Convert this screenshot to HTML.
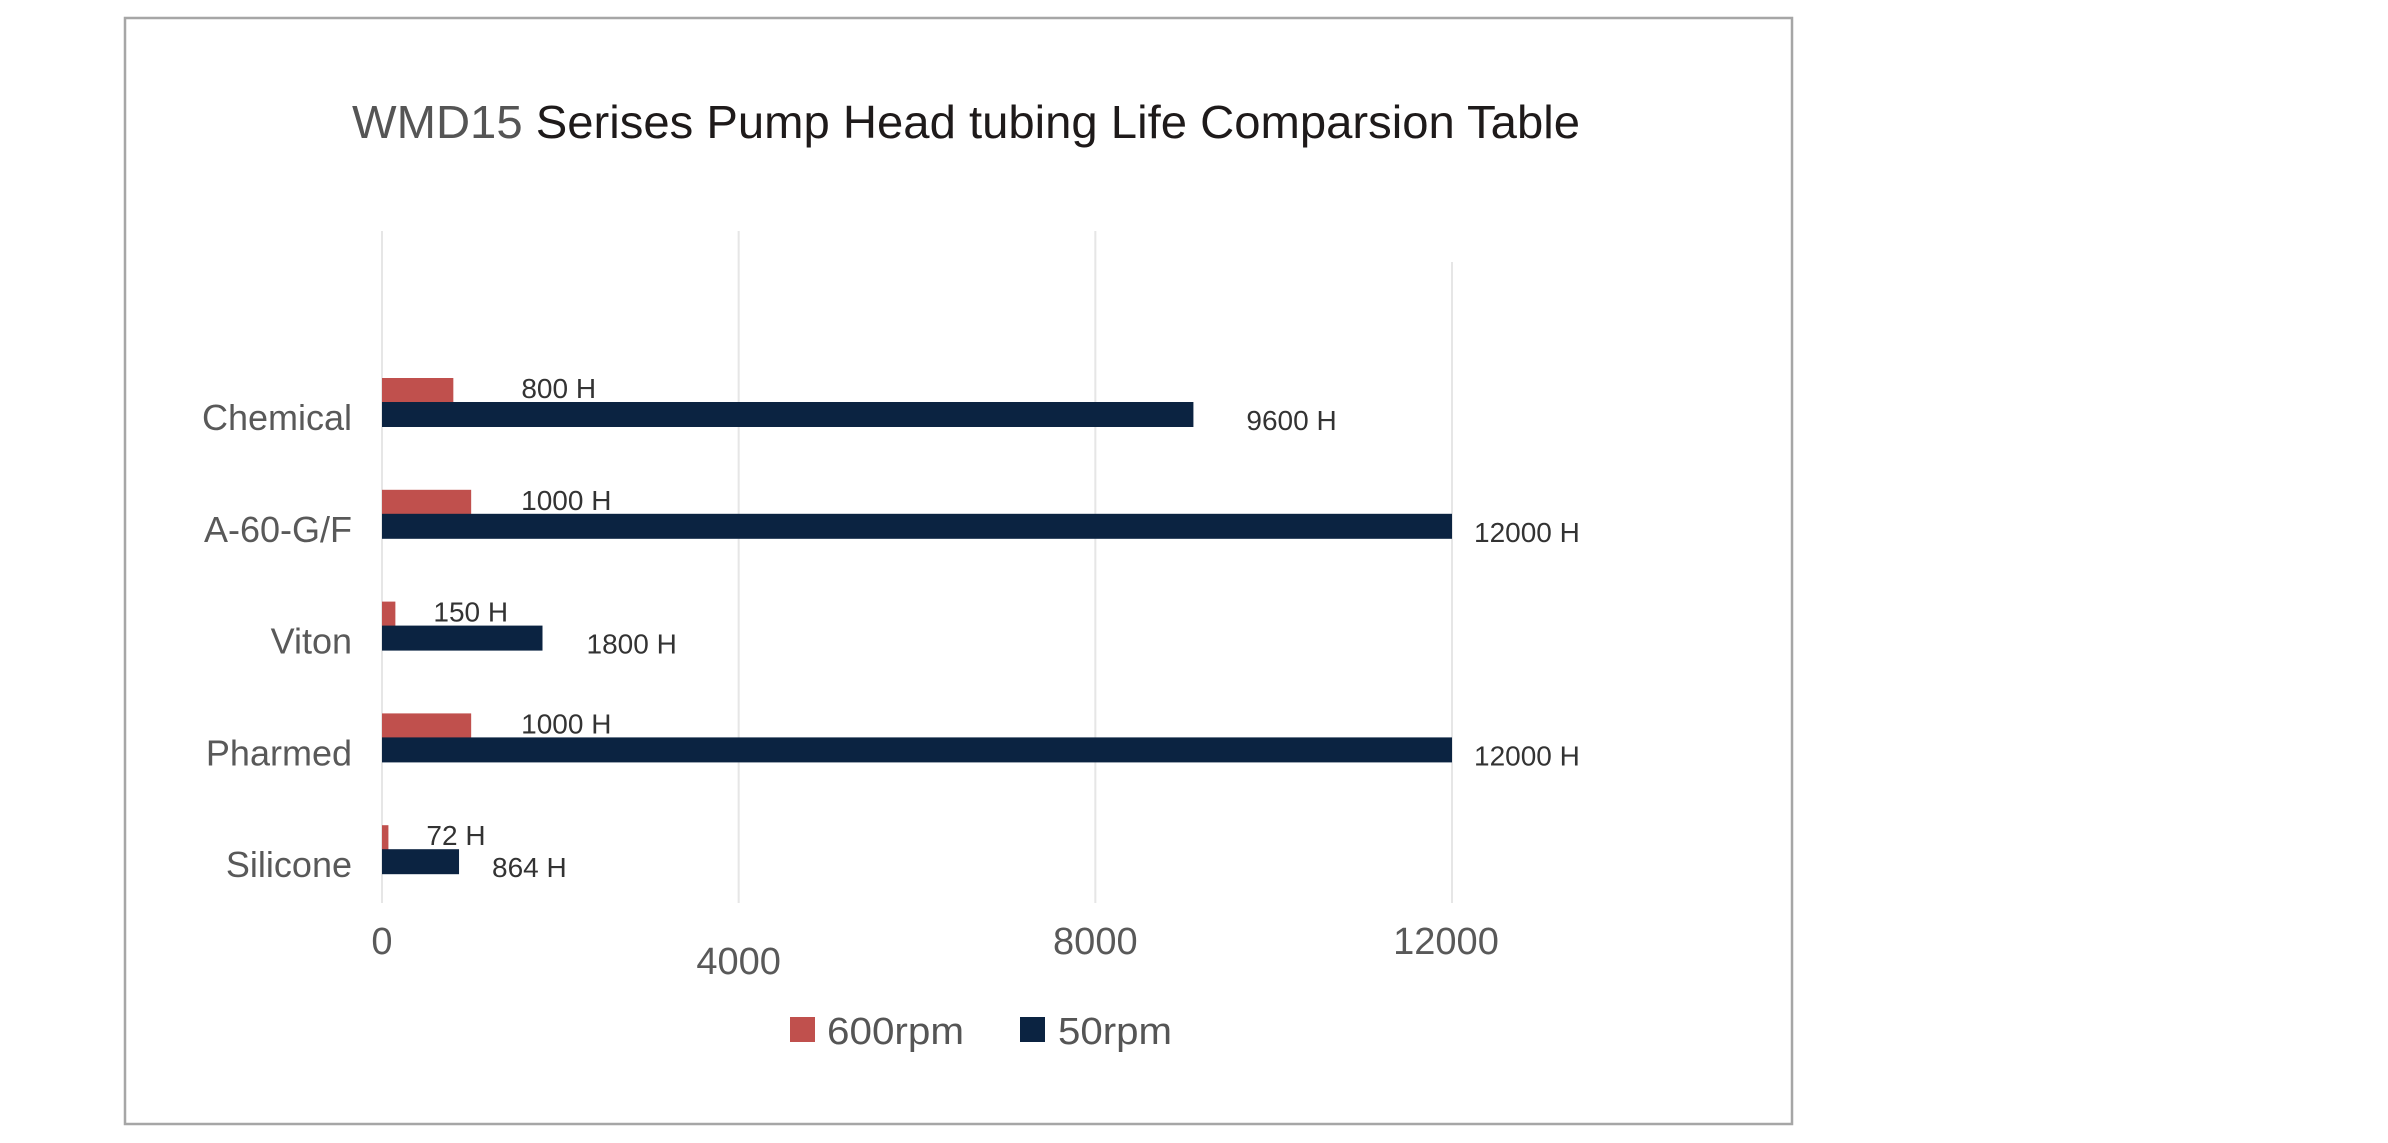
<!DOCTYPE html>
<html><head><meta charset="utf-8"><style>
html,body{margin:0;padding:0;background:#fff;}
svg{display:block;font-family:"Liberation Sans",sans-serif;}
</style></head><body>
<svg id="chart" width="2388" height="1143" viewBox="0 0 2388 1143" xmlns="http://www.w3.org/2000/svg">
<rect x="125" y="18" width="1667" height="1106" fill="#fff" stroke="#a6a6a6" stroke-width="2.5"/>
<text x="352" y="138" font-size="46" textLength="1228" lengthAdjust="spacingAndGlyphs"><tspan fill="#555">WMD15</tspan><tspan fill="#1e1a1a"> Serises Pump Head tubing Life Comparsion Table</tspan></text>
<g id="grid"></g><g id="bars"></g><g id="labels"></g>
<g>
<rect x="790" y="1017" width="25" height="25" fill="#c0504d"/>
<text x="827" y="1044" font-size="38" fill="#555" textLength="137" lengthAdjust="spacingAndGlyphs">600rpm</text>
<rect x="1020" y="1017" width="25" height="25" fill="#0b2341"/>
<text x="1058" y="1044" font-size="38" fill="#555" textLength="114" lengthAdjust="spacingAndGlyphs">50rpm</text>
</g>
</svg>
<script>
const categories=["Chemical","A-60-G/F","Viton","Pharmed","Silicone"];
const rpm600=[800,1000,150,1000,72];
const rpm50=[9100,12000,1800,12000,864];
const labels600=["800 H","1000 H","150 H","1000 H","72 H"];
const labels50=["9600 H","12000 H","1800 H","12000 H","864 H"];
const ticks=[0,4000,8000,12000];
const tickLabels=["0","4000","8000","12000"];
const NS="http://www.w3.org/2000/svg";
const x0=382,x1=1452,vmax=12000;
function xs(v){return x0+(v/vmax)*(x1-x0);}
function rowC(i){return 417+i*111.8;}
function mk(tag,attrs,parent,text){const e=document.createElementNS(NS,tag);for(const k in attrs)e.setAttribute(k,attrs[k]);if(text!==undefined)e.textContent=text;parent.appendChild(e);return e;}
const grid=document.getElementById('grid'),bars=document.getElementById('bars'),lab=document.getElementById('labels');
const tickY=[941,961,941,941];
ticks.forEach((t,i)=>{
  const l=mk('line',{x1:xs(t),x2:xs(t),y1:(i===3?262:231),y2:903,stroke:'#e6e6e6','stroke-width':2},grid);
  
  
  const tx=mk('text',{x:xs(t)-(i===3?6:0),y:tickY[i]+13,'font-size':38,fill:'#595959','text-anchor':'middle'},grid,tickLabels[i]);
  
  
});
categories.forEach((c,i)=>{
  const cy=rowC(i);
  const t=mk('text',{x:352,y:cy+13,'font-size':36,fill:'#595959','text-anchor':'end'},lab,c);
  
  
  const r=mk('rect',{x:x0,y:cy-39,width:xs(rpm600[i])-x0,height:25,fill:'#c0504d'},bars);
  
  
  const n=mk('rect',{x:x0,y:cy-15,width:xs(rpm50[i])-x0,height:25,fill:'#0b2341'},bars);
  
  
  const a=mk('text',{x:xs(rpm600[i])+(i===0?68:(i===2||i===4?38:50)),y:cy-19,'font-size':28,fill:'#333'},lab,labels600[i]);
  
  
  const b=mk('text',{x:xs(rpm50[i])+(i===0?53:(i===1||i===3?22:(i===2?44:33))),y:cy+13,'font-size':28,fill:'#333'},lab,labels50[i]);
  
  
});
</script>
</body></html>
